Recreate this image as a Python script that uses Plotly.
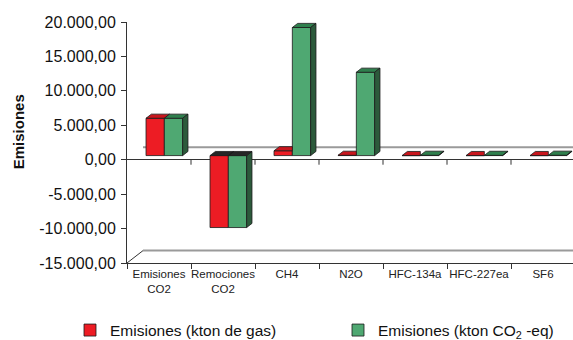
import plotly.graph_objects as go

# Gases and their emissions
categorias = ["Emisiones<br>CO2", "Remociones<br>CO2", "CH4", "N2O",
              "HFC-134a", "HFC-227ea", "SF6"]
kton_gas = [5420, -10450, 700, 39, 0.03, 0.01, 0.002]
kton_co2eq = [5420, -10450, 18600, 12100, 40, 30, 45]
y_ticks = [-15000, -10000, -5000, 0, 5000, 10000, 15000, 20000]

FONT = "Liberation Sans, Arial, sans-serif"
RED, RED_TOP = "#ED1C24", "#C8161D"
GREEN, GREEN_TOP, GREEN_SIDE = "#4FA872", "#2F7F4D", "#2C5A3B"
DARK_TOP = "#262626"
AXIS = "#333333"

# pseudo-3D geometry (category units along x, value units along y)
DEPTH_X, DEPTH_Y = 0.25, 1800.0       # total depth of the floor
BX, BY = DEPTH_X / 3, DEPTH_Y / 3     # bars sit in the middle third
BAR_W = 0.286
Y_MIN, Y_MAX = -15000, 20000
X_MAX = 446 / 64


def fmt(v):
    s = f"{abs(v):,.2f}".replace(",", "X").replace(".", ",").replace("X", ".")
    return ("-" if v < 0 else "") + s


n = len(categorias)
centers = [i + 0.5 + BX for i in range(n)]

fig = go.Figure()

fig.add_trace(go.Bar(
    x=centers, y=kton_gas, base=BY, width=BAR_W, offset=-BAR_W,
    marker=dict(color=RED, line=dict(color="#1a1a1a", width=0.8)),
    name="Emisiones (kton de gas)", legend="legend"))
fig.add_trace(go.Bar(
    x=centers, y=kton_co2eq, base=BY, width=BAR_W, offset=0,
    marker=dict(color=GREEN, line=dict(color="#1a1a1a", width=0.8)),
    name="Emisiones (kton CO<sub>2</sub> -eq)", legend="legend2"))

# top and side faces of each column
faces = {RED_TOP: ([], []), GREEN_TOP: ([], []), GREEN_SIDE: ([], []), DARK_TOP: ([], [])}


def add_poly(color, pts):
    xs, ys = faces[color]
    xs.extend([p[0] for p in pts] + [pts[0][0], None])
    ys.extend([p[1] for p in pts] + [pts[0][1], None])


for cx, r, g in zip(centers, kton_gas, kton_co2eq):
    x0, x1, x2 = cx - BAR_W, cx, cx + BAR_W
    tr = BY + max(r, 0)
    tg = BY + max(g, 0)
    lo = BY + min(g, 0)
    rc = RED_TOP if r >= 0 else DARK_TOP
    gc = GREEN_TOP if g >= 0 else DARK_TOP
    if tg > tr:
        add_poly(rc, [(x0, tr), (x1, tr), (x1, tr + BY), (x0 + BX, tr + BY)])
    else:
        add_poly(rc, [(x0, tr), (x1, tr), (x1 + BX, tr + BY), (x0 + BX, tr + BY)])
    add_poly(gc, [(x1, tg), (x2, tg), (x2 + BX, tg + BY), (x1 + BX, tg + BY)])
    add_poly(GREEN_SIDE, [(x2, lo), (x2, tg), (x2 + BX, tg + BY), (x2 + BX, lo + BY)])

for color, (xs, ys) in faces.items():
    fig.add_trace(go.Scatter(
        x=xs, y=ys, mode="lines", fill="toself", fillcolor=color,
        line=dict(color="#1a1a1a", width=0.8), showlegend=False,
        hoverinfo="skip"))

# floor outlines behind the columns
line_gray = dict(color="#9a9a9a", width=2)
fig.add_shape(type="line", xref="x", yref="y", layer="below",
              x0=DEPTH_X, x1=X_MAX, y0=DEPTH_Y, y1=DEPTH_Y, line=line_gray)
fig.add_shape(type="line", xref="x", yref="y", layer="below",
              x0=DEPTH_X, x1=X_MAX, y0=Y_MIN + DEPTH_Y, y1=Y_MIN + DEPTH_Y,
              line=line_gray)
fig.add_shape(type="line", xref="x", yref="y", layer="below",
              x0=0, x1=DEPTH_X, y0=Y_MIN, y1=Y_MIN + DEPTH_Y,
              line=dict(color=AXIS, width=1))

# category tick marks along the zero line
boundaries = list(range(0, n + 1))
for b in boundaries[1:]:
    fig.add_shape(type="line", xref="x", yref="y", layer="below",
                  ysizemode="pixel", yanchor=0, x0=b, x1=b, y0=0, y1=-5,
                  line=dict(color=AXIS, width=1))

legend_common = dict(orientation="h", xref="container", yref="container",
                     y=0.028, xanchor="left", yanchor="middle",
                     font=dict(size=15.5, family=FONT, color="#111111"),
                     bgcolor="rgba(0,0,0,0)")

fig.update_layout(
    width=573, height=340,
    margin=dict(l=127, r=0, t=22, b=77),
    paper_bgcolor="white", plot_bgcolor="white",
    font=dict(family=FONT, color="#222222"),
    barmode="overlay",
    showlegend=True,
    legend=dict(x=70 / 573, **legend_common),
    legend2=dict(x=338 / 573, **legend_common),
    xaxis=dict(range=[0, X_MAX], showgrid=False, zeroline=False,
               showline=True, linecolor=AXIS, linewidth=1,
               tickmode="array", tickvals=[i + 0.5 for i in range(n)],
               ticktext=categorias, ticks="", tickfont=dict(size=11.5),
               minor=dict(tickmode="array", tickvals=boundaries, ticks="outside",
                          ticklen=5, tickcolor=AXIS)),
    yaxis=dict(range=[Y_MIN, Y_MAX], showgrid=False,
               zeroline=True, zerolinecolor=AXIS, zerolinewidth=1,
               showline=True, linecolor=AXIS, linewidth=1,
               tickmode="array", tickvals=y_ticks,
               ticktext=[fmt(v) for v in y_ticks],
               ticks="outside", ticklen=5, tickcolor=AXIS,
               ticklabelstandoff=2,
               tickfont=dict(size=16, color="#111111")),
)

fig.add_annotation(text="<b>Emisiones</b>", textangle=-90,
                   xref="paper", yref="paper", x=0, y=(262.7 - 132) / 241,
                   xshift=-109, xanchor="center", yanchor="middle",
                   showarrow=False, font=dict(size=15, family=FONT, color="#111111"))

fig.write_html("out.html")
